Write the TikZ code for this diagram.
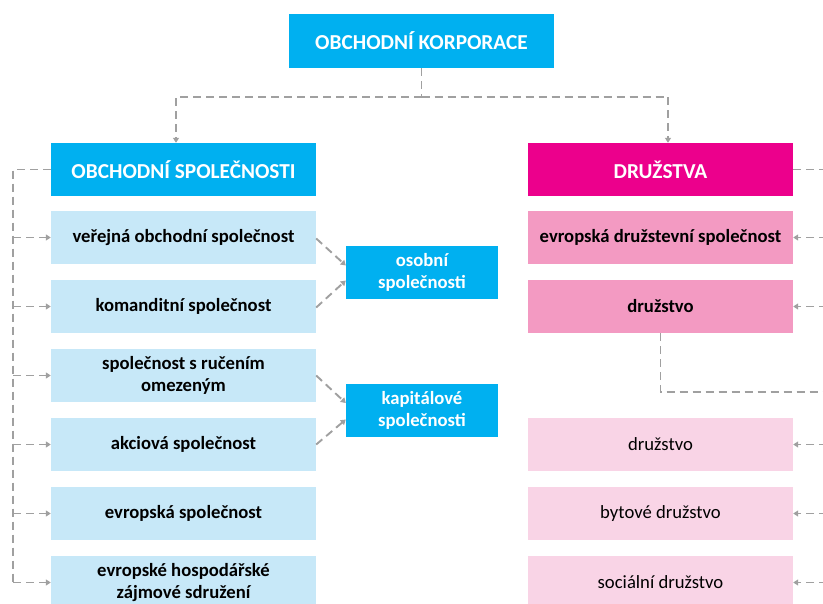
\documentclass[tikz,border=0pt]{standalone}
\usepackage{fontspec}
\setmainfont{Carlito}
\usetikzlibrary{arrows.meta,calc}
\definecolor{cyanK}{HTML}{00B0F0}
\definecolor{lblue}{HTML}{C7E8F8}
\definecolor{magK}{HTML}{EC008C}
\definecolor{pinkK}{HTML}{F39AC2}
\definecolor{lpink}{HTML}{F9D4E6}
\definecolor{lineG}{HTML}{A0A0A0}
\begin{document}
\begin{tikzpicture}[x=1pt,y=-1pt,
  box/.style={rectangle, minimum width=265pt, minimum height=53pt, inner sep=0pt, align=center, text=black, font=\bfseries\fontsize{18.67}{22}\selectfont},
  head/.style={box, text=white, font=\bfseries\fontsize{21.3}{25}\selectfont},
  item/.style={box, fill=lblue},
  mid/.style={box, fill=cyanK, text=white, minimum width=152pt},
  ritem/.style={box, fill=pinkK},
  litem/.style={box, fill=lpink, font=\fontsize{18.67}{22}\selectfont},
  conn/.style={draw=lineG, line width=1.9pt, dash pattern=on 8pt off 5pt, -{Triangle[length=5pt,width=6pt]}},
  plain/.style={draw=lineG, line width=1.9pt, dash pattern=on 8pt off 5pt}]
\useasboundingbox (0,0) rectangle (823,604);
\clip (0,0) rectangle (823,604);
\fill[white] (0,0) rectangle (823,604);

\node[head, fill=cyanK, minimum height=54pt] (top) at (421.5,41) {OBCHODNÍ KORPORACE};

\node[head, fill=cyanK] (lh) at (183.5,169.5) {OBCHODNÍ SPOLEČNOSTI};
\node[item] (i1) at (183.5,237.5) {veřejná obchodní společnost};
\node[item] (i2) at (183.5,306.5) {komanditní společnost};
\node[item] (i3) at (183.5,375.5) {společnost s ručením\\omezeným};
\node[item] (i4) at (183.5,444.5) {akciová společnost};
\node[item] (i5) at (183.5,513.5) {evropská společnost};
\node[item] (i6) at (183.5,582.5) {evropské hospodářské\\zájmové sdružení};

\node[mid] (os) at (422,272.5) {osobní\\společnosti};
\node[mid] (kap) at (422,410.5) {kapitálové\\společnosti};

\node[head, fill=magK] (dz) at (660.5,169.5) {DRUŽSTVA};
\node[ritem] (r1) at (660.5,237.5) {evropská družstevní společnost};
\node[ritem] (r2) at (660.5,306.5) {družstvo};
\node[litem] (r3) at (660.5,444.5) {družstvo};
\node[litem] (r4) at (660.5,513.5) {bytové družstvo};
\node[litem] (r5) at (660.5,582.5) {sociální družstvo};

% top connectors
\coordinate (J) at (421.5,97);
\draw[plain] (top.south) -- (J);
\draw[conn] (J) -| ([xshift=-7.5pt]lh.north);
\draw[conn] (J) -| ([xshift=7.5pt]dz.north);

% left bus
\coordinate (L) at (13,169.5);
\draw[plain] (lh.west) -- (L) -- (L |- i6.west);
\foreach \n in {i1,i2,i3,i4,i5,i6}{
  \draw[conn] (L |- \n.west) -- (\n.west);
}

% diagonals
\draw[conn] ([yshift=-1pt]i1.east) -- ([yshift=7pt]os.west);
\draw[conn] ([yshift=-1pt]i2.east) -- ([yshift=-8pt]os.west);
\draw[conn] (i3.east) -- ([yshift=7.5pt]kap.west);
\draw[conn] (i4.east) -- ([yshift=-9pt]kap.west);

% right side
\coordinate (R) at (840,169.5);
\draw[plain] (dz.east) -- (R) -- (R |- r5.east);
\foreach \n in {r1,r2,r3,r4,r5}{
  \draw[conn] (R |- \n.east) -- (\n.east);
}
\coordinate (B) at (660.5,392);
\draw[plain] (r2.south) -- (B) -- (B -| R);
\end{tikzpicture}
\end{document}
